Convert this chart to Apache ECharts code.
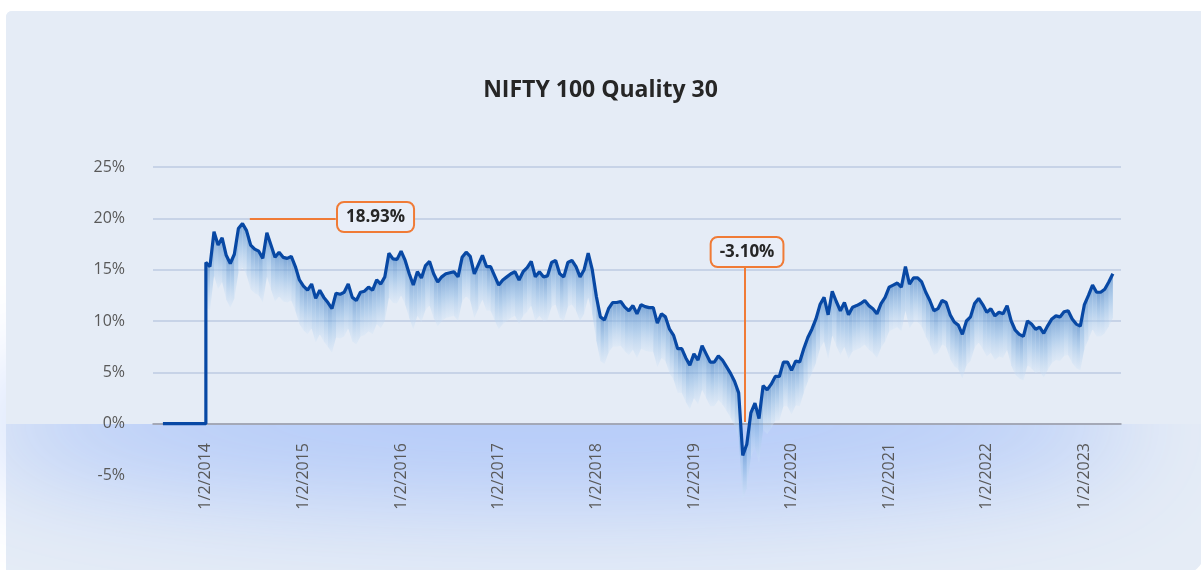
<!DOCTYPE html>
<html>
<head>
<meta charset="utf-8">
<script src="https://cdn.jsdelivr.net/npm/echarts@6/dist/echarts.min.js"></script>
<style>
  html, body { margin: 0; padding: 0; background: #ffffff; }
  #chart { width: 1201px; height: 570px; }
</style>
</head>
<body>
<div id="chart"></div>
<script type="text/javascript">

    // rolling return of the index, one value every half month from 2/1/2014
    var firstYear = 2014;
    var stepYears = 1 / 24;
    var launchYear = 2013.56;   // flat 0% part before the first value
    var quality30 = [
        15.7, 15.3, 18.7, 17.4, 18.1, 16.4, 15.6, 16.5, 19.0, 19.5,
        18.8, 17.4, 17.0, 16.8, 16.1, 18.6, 17.4, 16.2, 16.7, 16.2,
        16.1, 16.3, 15.3, 14.0, 13.4, 13.0, 13.6, 12.2, 13.0, 12.3,
        11.8, 11.2, 12.7, 12.6, 12.8, 13.6, 12.3, 12.0, 12.8, 12.9,
        13.3, 13.0, 14.0, 13.6, 14.3, 16.6, 16.05, 16.0, 16.8, 15.9,
        14.6, 13.5, 14.8, 14.2, 15.4, 15.8, 14.6, 13.8, 14.3, 14.6,
        14.7, 14.8, 14.3, 16.2, 16.7, 16.3, 14.6, 15.5, 16.4, 15.3,
        15.3, 14.4, 13.5, 14.0, 14.3, 14.6, 14.8, 14.0, 14.8, 15.2,
        15.8, 14.3, 14.8, 14.3, 14.4, 15.7, 15.9, 14.6, 14.3, 15.7,
        15.9, 15.3, 14.3, 15.0, 16.6, 15.0, 12.4, 10.4, 10.1, 11.2,
        11.8, 11.8, 11.9, 11.35, 11.0, 11.5, 10.7, 11.6, 11.4, 11.3,
        11.3, 9.8, 10.7, 10.4, 9.2, 8.6, 7.3, 7.3, 6.4, 5.7,
        6.8, 6.2, 7.6, 6.8, 6.0, 6.0, 6.6, 6.2, 5.55, 4.9,
        4.1, 3.0, -3.1, -2.0, 1.05, 2.0, 0.5, 3.7, 3.3, 3.85,
        4.6, 4.6, 6.0, 6.0, 5.2, 6.1, 6.0, 7.3, 8.4, 9.2,
        10.2, 11.6, 12.3, 10.6, 12.9, 11.9, 11.0, 11.8, 10.6, 11.35,
        11.5, 11.7, 12.0, 11.5, 11.2, 10.7, 11.7, 12.3, 13.3, 13.5,
        13.7, 13.3, 15.3, 13.6, 14.2, 14.2, 13.8, 12.8, 12.0, 11.0,
        11.2, 12.0, 11.8, 10.6, 9.9, 9.6, 8.7, 10.0, 10.4, 11.7,
        12.2, 11.6, 10.85, 11.2, 10.5, 10.85, 10.7, 11.5, 10.0, 9.1,
        8.7, 8.5, 10.0, 9.7, 9.2, 9.4, 8.8, 9.55, 10.2, 10.5,
        10.4, 10.9, 11.0, 10.2, 9.7, 9.5, 11.6, 12.5, 13.5, 12.8,
        12.8, 13.1, 13.8, 14.6
    ];
    var peakText = '18.93%';
    var troughText = '-3.10%';
    var titleText = 'NIFTY 100 Quality 30';

    // build [year, value] pairs
    var points = quality30.map(function (v, i) {
        return [firstYear + i * stepYears, v];
    });
    var lineData = [[launchYear, 0], [firstYear, 0]].concat(points);
    var bandData = [];
    for (var i = 0; i < points.length - 1; i++) {
        bandData.push([points[i][0], points[i][1], points[i + 1][0], points[i + 1][1]]);
    }

    var panel = '#e5ecf6';
    var orange = '#f07b36';
    var font = 'Open Sans';

    var bandFill = new echarts.graphic.LinearGradient(0, 0, 0, 1, [
        { offset: 0, color: 'rgba(80,136,200,0.7)' },
        { offset: 0.5, color: 'rgba(140,184,228,0.55)' },
        { offset: 1, color: 'rgba(210,228,247,0.35)' }
    ]);

    function renderBand(params, api) {
        var depth = 4.3;
        var a = api.coord([api.value(0), api.value(1)]);
        var b = api.coord([api.value(2), api.value(3)]);
        var c = api.coord([api.value(2), api.value(3) - depth]);
        var d = api.coord([api.value(0), api.value(1) - depth]);
        return {
            type: 'polygon',
            shape: { points: [a, b, c, d] },
            style: { fill: bandFill, stroke: null }
        };
    }

    var chart = echarts.init(document.getElementById('chart'));

    var option = {
        animation: false,
        backgroundColor: '#ffffff',
        graphic: [
            {
                type: 'rect', z: -6, silent: true,
                shape: { x: 6, y: 11, width: 1200, height: 565, r: [6, 0, 28, 0] },
                style: { fill: panel }
            },
            {
                // soft glow under the zero line, drawn as an offset shadow
                type: 'ellipse', z: -5, silent: true,
                shape: { cx: 555 + 3000, cy: 424, rx: 585, ry: 78 },
                style: {
                    fill: '#b4cbf9',
                    shadowBlur: 110,
                    shadowColor: '#b2c9f9',
                    shadowOffsetX: -3000
                }
            },
            {
                type: 'rect', z: -4, silent: true,
                shape: { x: 6, y: 11, width: 1200, height: 413, r: [6, 0, 0, 0] },
                style: { fill: panel }
            }
        ],
        title: {
            text: titleText,
            left: 'center',
            top: 74,
            textStyle: {
                fontFamily: font,
                fontWeight: 'bold',
                fontSize: 23,
                color: '#262626'
            }
        },
        grid: {
            left: 153,
            right: 80,
            top: 167,
            bottom: 95
        },
        xAxis: {
            type: 'value',
            min: 2013 + 11 / 24,
            max: 2023 + 9 / 24,
            interval: 1 / 24,
            axisLine: { onZero: true, lineStyle: { color: '#9a9ca8', width: 1.5 } },
            axisTick: { show: false },
            splitLine: { show: false },
            axisLabel: {
                rotate: 90,
                margin: -32,
                color: '#595959',
                fontFamily: font,
                fontSize: 16,
                formatter: function (v) {
                    var y = Math.round(v);
                    return Math.abs(v - y) < 0.02 ? '1/2/' + y : '';
                }
            }
        },
        yAxis: {
            type: 'value',
            min: -5,
            max: 25,
            interval: 5,
            axisLine: { show: false },
            axisTick: { show: false },
            axisLabel: {
                formatter: '{value}%',
                margin: 28,
                color: '#595959',
                fontFamily: font,
                fontSize: 16
            },
            splitLine: {
                lineStyle: {
                    width: 1.5,
                    color: ['rgba(0,0,0,0)', '#bccbe2', '#bccbe2', '#bccbe2', '#bccbe2', '#bccbe2', '#bccbe2']
                }
            }
        },
        series: [
            {
                name: 'band',
                type: 'custom',
                z: 1,
                silent: true,
                renderItem: renderBand,
                encode: { x: [0, 2], y: [1, 3] },
                data: bandData
            },
            {
                name: titleText,
                type: 'line',
                z: 3,
                showSymbol: false,
                silent: true,
                lineStyle: { color: '#0848a4', width: 3.2 },
                data: lineData,
                markLine: {
                    silent: true,
                    symbol: ['none', 'none'],
                    label: { show: false },
                    lineStyle: { color: orange, width: 2, type: 'solid' },
                    data: [
                        [{ coord: [2014.45, 19.94] }, { coord: [2015.33, 19.94] }],
                        [{ coord: [2019.523, 15.17] }, { coord: [2019.523, 0.17] }]
                    ]
                },
                markPoint: {
                    silent: true,
                    symbol: 'rect',
                    symbolSize: 1,
                    itemStyle: { color: 'rgba(0,0,0,0)' },
                    label: {
                        show: true,
                        position: 'inside',
                        formatter: '{b}',
                        fontFamily: font,
                        fontWeight: 'bold',
                        fontSize: 17,
                        color: '#262626',
                        backgroundColor: '#e8eef8',
                        borderColor: orange,
                        borderWidth: 2,
                        borderRadius: 6,
                        padding: [6, 8, 5, 8]
                    },
                    data: [
                        { name: peakText, coord: [2015.738, 20.13] },
                        { name: troughText, coord: [2019.544, 16.72] }
                    ]
                }
            }
        ]
    };

    chart.setOption(option);
</script>
</body>
</html>
